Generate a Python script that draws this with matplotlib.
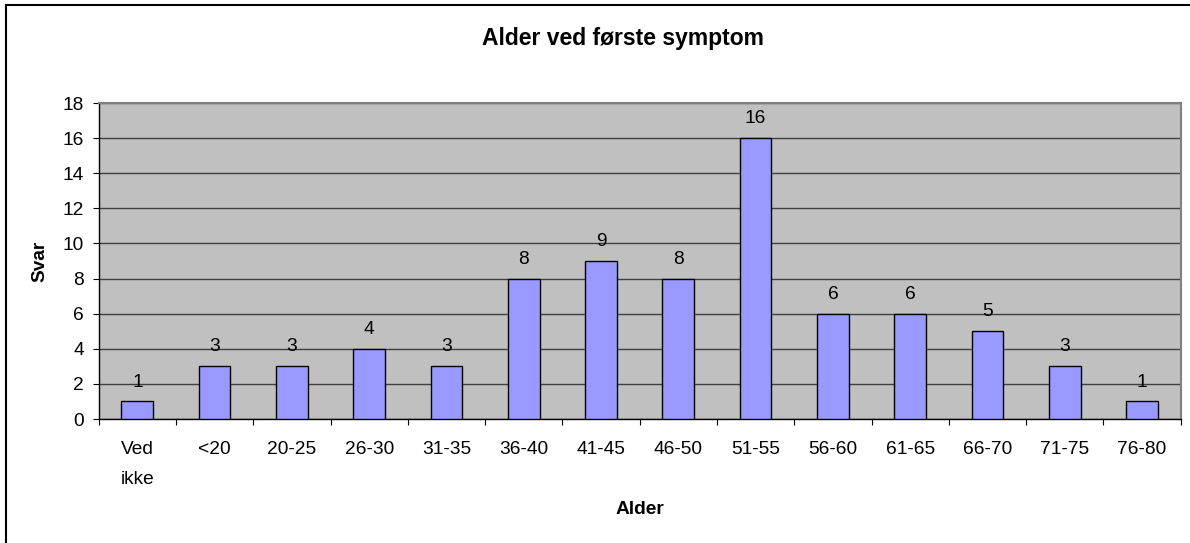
import matplotlib
matplotlib.use("Agg")
import matplotlib.pyplot as plt
from matplotlib.lines import Line2D

categories = ["Ved\nikke", "<20", "20-25", "26-30", "31-35", "36-40", "41-45",
              "46-50", "51-55", "56-60", "61-65", "66-70", "71-75", "76-80"]
values = [1, 3, 3, 4, 3, 8, 9, 8, 16, 6, 6, 5, 3, 1]
yticks = list(range(0, 19, 2))

plt.rcParams['font.family'] = ['Liberation Sans', 'DejaVu Sans']

W, H = 1190, 543
fig = plt.figure(figsize=(W / 100, H / 100), dpi=100)
fig.patch.set_facecolor('white')

FS = 13.8

left, right, top, bottom = 98.7, 1180.7, 103, 419
ax = fig.add_axes([left / W, 1 - bottom / H, (right - left) / W, (bottom - top) / H])
ax.set_facecolor('#C0C0C0')

x = list(range(len(categories)))
bars = ax.bar(x, values, width=0.41, color='#9999FF', edgecolor='black', linewidth=1, zorder=3)
for xi, v in zip(x, values):
    ax.text(xi, v + 0.62, str(v), ha='center', va='bottom', fontsize=FS, color='black', zorder=4)

ax.set_xlim(-0.5, len(categories) - 0.5)
ax.set_ylim(0, 18)
ax.set_yticks(yticks)
ax.set_yticklabels([str(t) for t in yticks], fontsize=FS)
ax.yaxis.grid(True, color='#404040', linewidth=1, zorder=1)
ax.set_axisbelow(True)

ax.set_xticks([i - 0.5 for i in range(len(categories) + 1)])
ax.set_xticklabels([])
ax.set_xticks(x, minor=True)
ax.set_xticklabels(categories, minor=True, fontsize=FS, va='top', linespacing=2.0)
ax.tick_params(axis='x', which='minor', length=0, pad=15.5)
ax.tick_params(axis='x', which='major', length=4.5, direction='out', color='black')
ax.tick_params(axis='y', length=4.5, direction='out', color='black', pad=6)

for s in ['left', 'bottom']:
    ax.spines[s].set_color('black')
    ax.spines[s].set_linewidth(1)
for s in ['top', 'right']:
    ax.spines[s].set_color('#808080')
    ax.spines[s].set_linewidth(1.5)

fig.text(623 / W, 1 - 39 / H, "Alder ved første symptom", ha='center', va='center',
         fontsize=16.5, fontweight='bold')
fig.text((left + right) / 2 / W, 1 - 510 / H, "Alder", ha='center', va='center',
         fontsize=FS, fontweight='bold')
fig.text(40 / W, 1 - 261 / H, "Svar", ha='center', va='center', rotation=90,
         fontsize=FS, fontweight='bold')

# figure border (left and top visible)
fig.add_artist(Line2D([5.5 / W, 5.5 / W], [0, 1 - 4.5 / H], color='black', linewidth=1.5,
                      transform=fig.transFigure))
fig.add_artist(Line2D([5.5 / W, 1], [1 - 4.5 / H, 1 - 4.5 / H], color='black', linewidth=1.5,
                      transform=fig.transFigure))

fig.savefig("out.png", dpi=100, facecolor='white')
